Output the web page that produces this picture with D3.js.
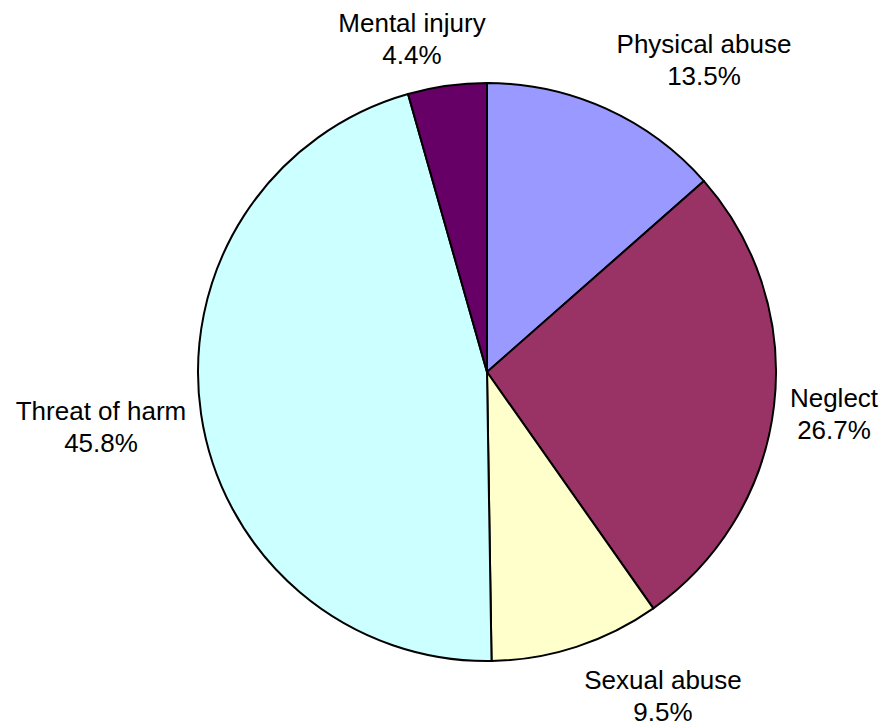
<!DOCTYPE html>
<html>
<head>
<meta charset="utf-8">
<script src="https://cdn.jsdelivr.net/npm/d3@7"></script>
<style>
  html, body { margin: 0; padding: 0; background: #ffffff; }
  svg { display: block; }
  text { font-family: "Liberation Sans", Arial, sans-serif; fill: #000; }
</style>
</head>
<body>
<svg id="chart" width="884" height="728"></svg>
<script>
// Categories and their shares (percent), clockwise from 12 o'clock
const categories = ["Physical abuse", "Neglect", "Sexual abuse", "Threat of harm", "Mental injury"];
const shares = [13.5, 26.7, 9.5, 45.8, 4.4];
const sliceColors = ["#9999FF", "#993366", "#FFFFCC", "#CCFFFF", "#660066"];

// Label block placement: centre x and first-line baseline
const labelLayout = [
  { x: 704, y: 53 },
  { x: 834, y: 407 },
  { x: 663, y: 689 },
  { x: 101, y: 420 },
  { x: 412, y: 32 }
];

const width = 884, height = 728;
const cx = 487, cy = 372, radius = 289;
const lineGap = 32;

const data = categories.map((c, i) => ({ name: c, value: shares[i], color: sliceColors[i], label: labelLayout[i] }));

const svg = d3.select("#chart");

const pie = d3.pie().sort(null).value(d => d.value);
const arc = d3.arc().innerRadius(0).outerRadius(radius);

const g = svg.append("g").attr("transform", `translate(${cx},${cy})`);

g.selectAll("path")
  .data(pie(data))
  .join("path")
  .attr("d", arc)
  .attr("fill", d => d.data.color)
  .attr("stroke", "#000")
  .attr("stroke-width", 2)
  .attr("stroke-linejoin", "round");

const fmt = d3.format(".1f");

const labels = svg.append("g")
  .selectAll("text")
  .data(data)
  .join("text")
  .attr("text-anchor", "middle")
  .attr("font-size", 26)
  .attr("x", d => d.label.x)
  .attr("y", d => d.label.y);

labels.append("tspan")
  .attr("x", d => d.label.x)
  .text(d => d.name);

labels.append("tspan")
  .attr("x", d => d.label.x)
  .attr("dy", lineGap)
  .text(d => fmt(d.value) + "%");
</script>
</body>
</html>
